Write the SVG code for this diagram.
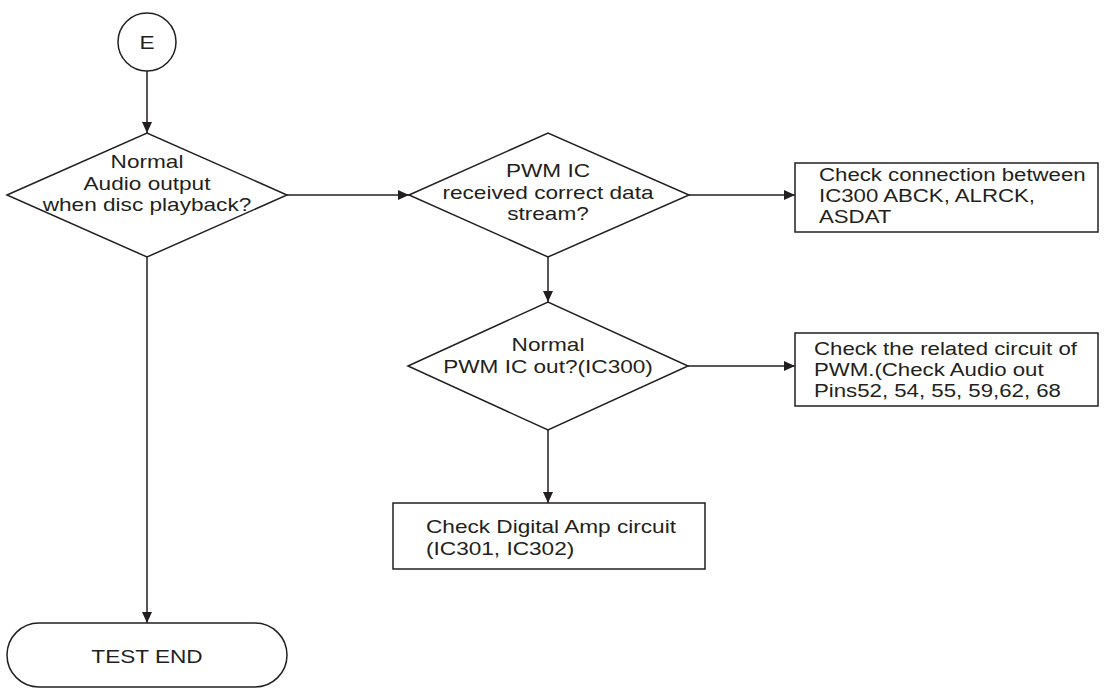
<svg xmlns="http://www.w3.org/2000/svg" width="1107" height="690" viewBox="0 0 1107 690">
<style>
.s{fill:#fff;stroke:#231f20;stroke-width:1.5}
.t{font-family:"Liberation Sans",Arial,sans-serif;font-size:19px;fill:#231f20}
.c{text-anchor:middle}
.l{fill:none;stroke:#231f20;stroke-width:1.5}
</style>
<defs>
<marker id="a" markerUnits="userSpaceOnUse" markerWidth="11" markerHeight="10" refX="11" refY="5" orient="auto">
<path d="M0,0 L11,5 L0,10 z" fill="#231f20"/>
</marker>
</defs>
<rect width="1107" height="690" fill="#fff"/>
<g id="connectors">
<line class="l" x1="147" y1="71" x2="147" y2="133" marker-end="url(#a)"/>
<line class="l" x1="287" y1="195" x2="409" y2="195" marker-end="url(#a)"/>
<line class="l" x1="689" y1="195" x2="795" y2="195" marker-end="url(#a)"/>
<line class="l" x1="548" y1="257" x2="548" y2="302" marker-end="url(#a)"/>
<line class="l" x1="688" y1="366" x2="795" y2="366" marker-end="url(#a)"/>
<line class="l" x1="548" y1="430" x2="548" y2="503" marker-end="url(#a)"/>
<line class="l" x1="147" y1="257" x2="147" y2="623" marker-end="url(#a)"/>
</g>
<g id="startE">
<circle class="s" cx="147" cy="42" r="29"/>
<text class="t c" transform="translate(147 49) scale(1.19 1)">E</text>
</g>
<g id="decision1">
<polygon class="s" points="7,195 147,133 287,195 147,257"/>
<text class="t c" transform="translate(147 0) scale(1.19 1)"><tspan x="0" y="168">Normal</tspan><tspan x="0" y="190">Audio output</tspan><tspan x="0" y="211">when disc playback?</tspan></text>
</g>
<g id="decision2">
<polygon class="s" points="409,195 548,133 689,195 548,257"/>
<text class="t c" transform="translate(548 0) scale(1.19 1)"><tspan x="0" y="177">PWM IC</tspan><tspan x="0" y="199">received correct data</tspan><tspan x="0" y="220">stream?</tspan></text>
</g>
<g id="box1">
<rect class="s" x="795" y="163" width="303" height="69"/>
<text class="t" transform="translate(819 0) scale(1.17 1)"><tspan x="0" y="181">Check connection between</tspan><tspan x="0" y="202">IC300 ABCK, ALRCK,</tspan><tspan x="0" y="223">ASDAT</tspan></text>
</g>
<g id="decision3">
<polygon class="s" points="408,366 548,302 688,366 548,430"/>
<text class="t c" transform="translate(548 0) scale(1.19 1)"><tspan x="0" y="351">Normal</tspan><tspan x="0" y="373">PWM IC out?(IC300)</tspan></text>
</g>
<g id="box2">
<rect class="s" x="795" y="333" width="303" height="73"/>
<text class="t" transform="translate(814 0) scale(1.17 1)"><tspan x="0" y="355">Check the related circuit of</tspan><tspan x="0" y="376">PWM.(Check Audio out</tspan><tspan x="0" y="397">Pins52, 54, 55, 59,62, 68</tspan></text>
</g>
<g id="box3">
<rect class="s" x="393" y="503" width="312" height="66"/>
<text class="t" transform="translate(426 0) scale(1.19 1)"><tspan x="0" y="533">Check Digital Amp circuit</tspan><tspan x="0" y="555">(IC301, IC302)</tspan></text>
</g>
<g id="testEnd">
<rect class="s" x="7" y="623" width="280" height="64" rx="32" ry="32"/>
<text class="t c" transform="translate(147 663) scale(1.19 1)">TEST END</text>
</g>
</svg>
